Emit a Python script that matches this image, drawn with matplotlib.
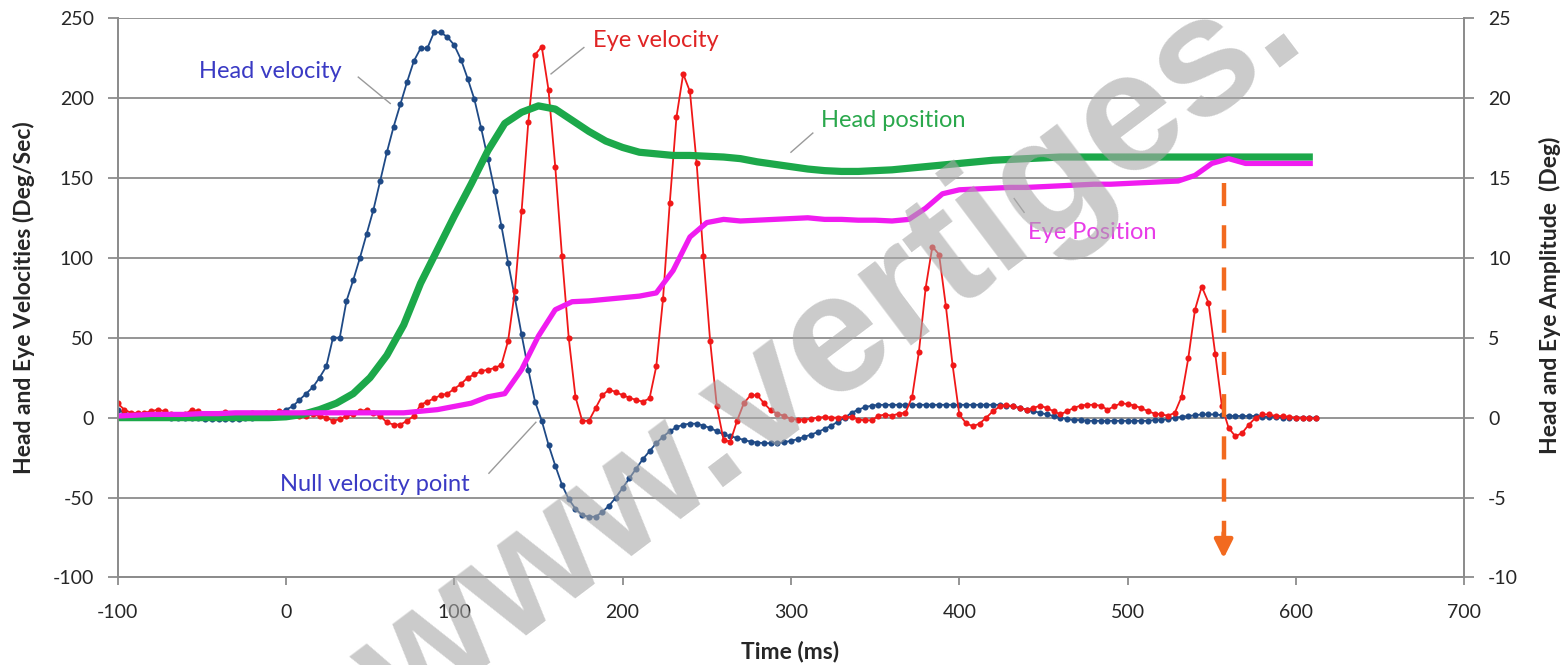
import numpy as np
import matplotlib
matplotlib.use('Agg')
import matplotlib.pyplot as plt

# Grelhas de tempo (ms): velocidades a cada 4 ms, posições a cada 10 ms
t_vel = np.arange(-100, 613, 4)
t_pos = np.arange(-100, 611, 10)

# Velocidade da cabeça (graus/s)
head_vel = [
    5, 3, 2, 2, 1, 1, 1, 1, 0, 0,
    0, 0, 0, -1, -1, -1, -1, -1, -1, 0,
    0, 1, 1, 2, 3, 5, 7, 11, 15, 19,
    25, 32, 50, 50, 73, 86, 100, 115, 130, 148,
    166, 182, 196, 210, 223, 231, 231, 241, 241, 238,
    233, 224, 212, 199, 181, 162, 142, 120, 97, 75,
    52, 30, 10, -2, -17, -30, -42, -51, -57, -61,
    -62, -62, -59, -55, -50, -44, -38, -32, -26, -21,
    -16, -12, -8.5, -6, -4.4, -3.8, -3.8, -5, -6.5, -8.5,
    -10.5, -11.7, -12.7, -14, -15, -15.6, -16, -16, -16, -15.4,
    -14.5, -13.5, -12, -10.6, -9, -7, -5, -2.5, 0, 3,
    5, 6.5, 7.5, 8, 8, 8, 8, 8, 8, 8,
    8, 8, 8, 8, 8, 8, 8, 8, 8, 8,
    8, 8, 7.5, 7, 6, 5, 4, 3, 2, 1,
    0, -1, -1.5, -1.5, -2, -2, -2, -2, -2, -2,
    -2, -2, -2, -2, -1.5, -1.5, -1, 0, 0.5, 1,
    1.5, 2, 2, 2, 1.5, 1, 1, 1, 1, 1,
    0.5, 0.5, 0.5, 0, 0, 0, 0, 0, 0,
]

# Velocidade do olho (graus/s)
eye_vel = [
    9, 5, 3, 3, 3, 4, 5, 4, 2, 1,
    2, 5, 4, 2, 0.5, 2, 3.5, 2, 1, 2,
    3, 2, 3, 3, 4, 3, 2, 1, 1, 2,
    1, 0, -2, -1, 1, 2, 4, 5, 3, 1,
    -3, -4.4, -4.4, -2, 1, 8, 10, 12, 14, 15,
    18, 21, 25, 27, 29, 30, 31, 33, 48, 79,
    129, 185, 227, 232, 205, 157, 101, 50, 13, -2,
    -2, 6, 14, 17.5, 16, 14, 12.5, 11, 10, 12,
    32, 74, 134, 188, 215, 204, 159, 101, 48, 7,
    -14, -15, -2, 9, 14, 14, 9, 4.6, 2.5, 1,
    -0.8, -1.2, -1.2, -0.8, 0, 0.4, 0, 0, 0.4, 0.4,
    -1.2, -1.7, -1.7, 1.2, 1.9, 1.2, 2.5, 3, 13, 41,
    81, 107, 102, 70, 33, 2, -3.5, -5.4, -3.8, 0,
    4, 7, 8, 7, 6, 5, 6, 7.5, 6, 4,
    2, 4, 6, 7.5, 8, 8, 7.5, 5, 7, 9,
    8.5, 7.5, 6, 4, 2.5, 2, 1.2, 3, 13, 37,
    67.5, 82, 72, 40, 7, -6.5, -11.7, -9.6, -4.4, 0,
    2, 2, 1, 1, 0.4, 0, 0, -0.5, -0.5,
]

# Posição da cabeça (graus)
head_pos = [
    0, 0, 0, 0, 0, 0, 0, 0, 0, 0,
    0.05, 0.2, 0.5, 0.9, 1.5, 2.5, 3.9, 5.8, 8.4, 10.5,
    12.6, 14.6, 16.7, 18.4, 19.1, 19.5, 19.3, 18.6, 17.9, 17.3,
    16.9, 16.6, 16.5, 16.4, 16.4, 16.35, 16.3, 16.2, 16.0, 15.85,
    15.7, 15.55, 15.45, 15.4, 15.4, 15.45, 15.5, 15.6, 15.7, 15.8,
    15.9, 16.0, 16.1, 16.15, 16.2, 16.25, 16.3, 16.3, 16.3, 16.3,
    16.3, 16.3, 16.3, 16.3, 16.3, 16.3, 16.3, 16.3, 16.3, 16.3,
    16.3, 16.3,
]

# Posição do olho (graus)
eye_pos = [
    0.1, 0.15, 0.2, 0.2, 0.2, 0.25, 0.25, 0.3, 0.3, 0.3,
    0.3, 0.3, 0.3, 0.3, 0.3, 0.3, 0.3, 0.3, 0.4, 0.5,
    0.7, 0.9, 1.3, 1.5, 3.0, 5.1, 6.75, 7.25, 7.3, 7.4,
    7.5, 7.6, 7.8, 9.2, 11.3, 12.2, 12.4, 12.3, 12.35, 12.4,
    12.45, 12.5, 12.4, 12.4, 12.35, 12.35, 12.3, 12.4, 13.1, 14.0,
    14.25, 14.3, 14.35, 14.4, 14.4, 14.45, 14.5, 14.55, 14.6, 14.6,
    14.65, 14.7, 14.75, 14.8, 15.15, 15.9, 16.2, 15.9, 15.9, 15.9,
    15.9, 15.9,
]

plt.rcParams['font.family'] = ['Lato', 'DejaVu Sans']
plt.rcParams['axes.unicode_minus'] = False

cinza = '#8c8c8c'
cor_texto = '#262626'

fig = plt.figure(figsize=(15.67, 6.65), dpi=100)
ax = fig.add_axes([0.075, 0.1316, 0.8595, 0.8414])
ax2 = ax.twinx()

# Velocidades no eixo da esquerda
ax.plot(t_vel, head_vel, color='#1f4a86', lw=1.3, marker='o', ms=4.4,
        markeredgewidth=0, zorder=3)
ax.plot(t_vel, eye_vel, color='#f01818', lw=1.3, marker='o', ms=4.4,
        markeredgewidth=0, zorder=4)

# Posições no eixo da direita
ax2.plot(t_pos, head_pos, color='#1ca84a', lw=5.2, solid_capstyle='butt',
         solid_joinstyle='round')
ax2.plot(t_pos, eye_pos, color='#f01cf0', lw=3.8, solid_capstyle='butt',
         solid_joinstyle='round')

ax.set_xlim(-100, 700)
ax.set_ylim(-100, 250)
ax2.set_ylim(-10, 25)
ax.set_xticks(range(-100, 701, 100))
ax.set_yticks(range(-100, 251, 50))
ax2.set_yticks(range(-10, 26, 5))

ax.yaxis.grid(True, color=cinza, lw=1.3)
ax.set_axisbelow(True)
for a in (ax, ax2):
    a.spines['top'].set_visible(False)
    for s in ('left', 'right', 'bottom'):
        a.spines[s].set_color(cinza)
        a.spines[s].set_linewidth(1.3)

ax.tick_params(axis='y', direction='out', length=7, width=1.3, color=cinza,
               labelsize=14, pad=10, labelcolor=cor_texto)
ax.tick_params(axis='x', direction='out', length=6, width=1.3, color=cinza,
               labelsize=14, pad=13, labelcolor=cor_texto)
ax2.tick_params(axis='y', direction='out', length=7, width=1.3, color=cinza,
                labelsize=14, pad=10, labelcolor=cor_texto)

fig.text(24 / 1567, 1 - 298 / 665, 'Head and Eye Velocities (Deg/Sec)',
         rotation=90, ha='center', va='center', fontsize=16.5,
         fontweight='bold', color=cor_texto)
fig.text(1550 / 1567, 1 - 295 / 665, 'Head and Eye Amplitude  (Deg)',
         rotation=90, ha='center', va='center', fontsize=16.5,
         fontweight='bold', color=cor_texto)
fig.text(790 / 1567, 1 - 652 / 665, 'Time (ms)', ha='center', va='center',
         fontsize=16.5, fontweight='bold', color=cor_texto)

# Rótulos das curvas com as linhas de chamada
rotulos = [
    ('Head velocity', -9, 216.5, '#3a3ac4', (43, 62), (213, 196.5)),
    ('Eye velocity', 220, 236, '#e02424', (177, 157.5), (231.5, 215)),
    ('Head position', 361, 186, '#2aa84c', (313, 300), (178, 166)),
    ('Eye Position', 479, 116, '#e83ce8', (432.6, 438.5), (137, 128.4)),
    ('Null velocity point', 53, -42, '#3a3ac4', (120.6, 148.5), (-34.8, -2.9)),
]
for texto, x, y, cor, lx, ly in rotulos:
    ax.text(x, y, texto, color=cor, fontsize=17, ha='center', va='center',
            zorder=6)
    ax.plot(lx, ly, color='#9a9a9a', lw=1, zorder=6)

# Seta tracejada laranja
laranja = '#f26a1f'
ax.plot([557, 557], [147, -74], color=laranja, lw=3.2, dashes=(5.2, 4.3),
        zorder=7)
ax.annotate('', xy=(557, -88), xytext=(557, -72),
            arrowprops=dict(arrowstyle='-|>,head_length=1.1,head_width=0.55',
                            color=laranja, lw=3.2, shrinkA=0, shrinkB=0),
            zorder=7)

# Marca d'água
fig.text(0.53, 0.47, 'www.vertiges.', rotation=37, ha='center', va='center',
         fontsize=122, fontweight='bold', color='#a8a8a8', alpha=0.6,
         family='Liberation Sans', zorder=10)

fig.savefig('out.png', dpi=100)
